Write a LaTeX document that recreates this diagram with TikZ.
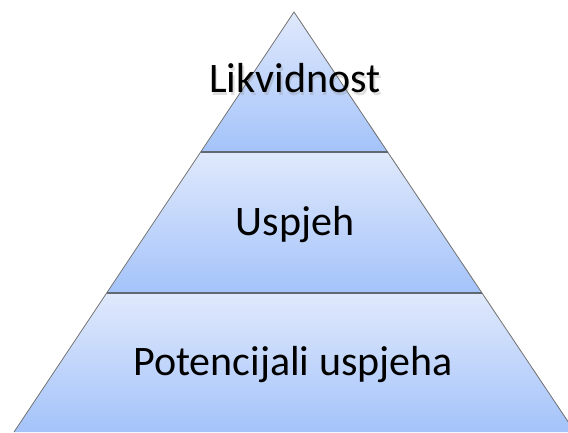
\documentclass[tikz,border=0pt]{standalone}
\usepackage{fontspec}
\setmainfont{Carlito}
\definecolor{bandtop}{RGB}{224,233,252}
\definecolor{bandbottom}{RGB}{164,195,250}
\definecolor{edgegray}{RGB}{112,112,112}
\definecolor{sepgray}{RGB}{96,104,114}
\begin{document}
\begin{tikzpicture}[
        x=1pt, y=1pt,
        band/.style={top color=bandtop, bottom color=bandbottom},
        outline/.style={draw=edgegray, line width=0.8pt, line join=round},
        separator/.style={draw=sepgray, line width=1.6pt},
        label/.style={font=\fontsize{42}{50}\selectfont, anchor=base, inner sep=0pt},
        shadowed/.style={label, text=black!50, opacity=0.25}
    ]
    \useasboundingbox (0,0) rectangle (568,432);
    \clip (0,0) rectangle (568,432);
    % corners of the pyramid
    \coordinate (apex) at (294,420);
    \coordinate (topL) at (201,280);
    \coordinate (topR) at (388,280);
    \coordinate (midL) at (107,139);
    \coordinate (midR) at (482,139);
    \coordinate (baseL) at (14,0);
    \coordinate (baseR) at (575,0);
    % bands
    \shade [band] (apex) -- (topR) -- (topL) -- cycle;
    \shade [band] (topL) -- (topR) -- (midR) -- (midL) -- cycle;
    \shade [band] (midL) -- (midR) -- (baseR) -- (baseL) -- cycle;
    \draw [outline] (baseL) -- (apex) -- (baseR);
    \draw [separator] (topL) -- (topR);
    \draw [separator] (midL) -- (midR);
    % labels
    \node [shadowed] (liqshadow) at (296.5,336.5) {Likvidnost};
    \node [label] (liquidity) at (295,339) {Likvidnost};
    \node [label] (success) at (295,197) {Uspjeh};
    \node [label] (potential) at (293,57) {Potencijali uspjeha};
\end{tikzpicture}
\end{document}
